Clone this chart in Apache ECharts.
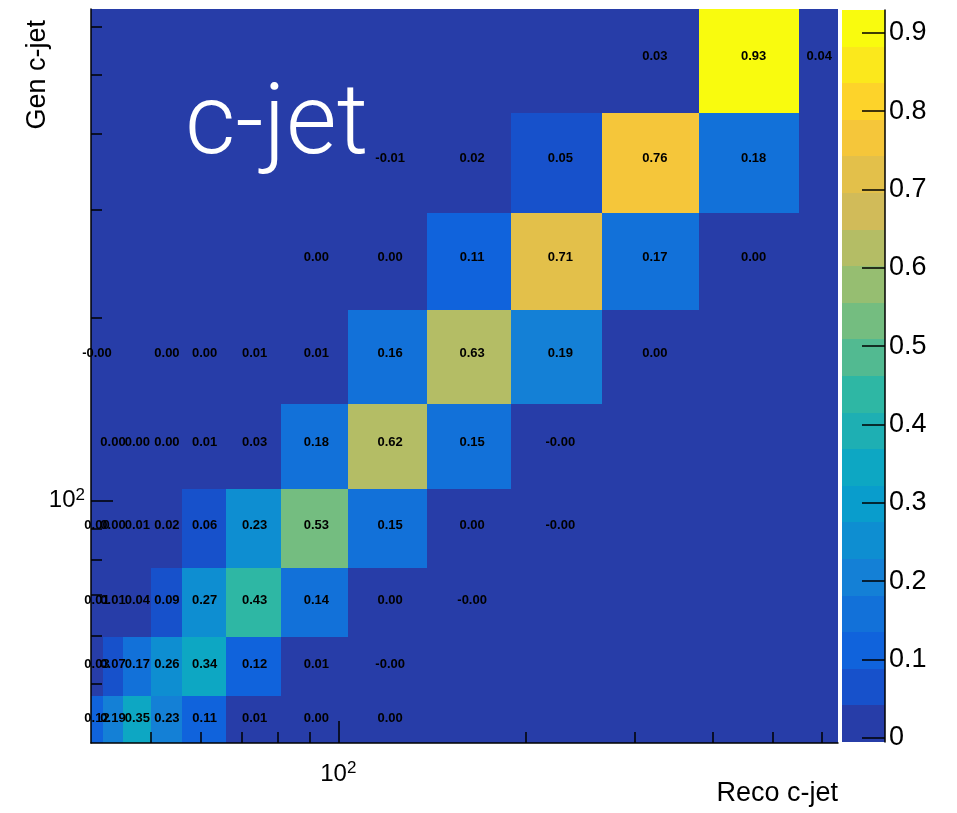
<!DOCTYPE html>
<html><head><meta charset="utf-8">
<script src="https://cdn.jsdelivr.net/npm/echarts@6/dist/echarts.min.js"></script>
<style>html,body{margin:0;padding:0;background:#fff}#c{width:957px;height:813px}</style>
</head><body><div id="c"></div>
<script>
// ---- data ----
const xEdges = [40, 41.8, 45, 50, 56, 65.9, 80.8, 103.6, 138.8, 189.6, 265.7, 380.6, 551.3, 637];
const yEdges = [40, 47.8, 59.7, 77.6, 104.6, 144.4, 205.3, 296.6, 433, 642];
// rows from bottom (Gen bin 1) to top (Gen bin 9); columns = Reco bins 1..13
const row1 = [0.12, 0.19, 0.35, 0.226, 0.11, 0.01, 0.001, 0.001, null, null, null, null, null];
const row2 = [0.03, 0.07, 0.17, 0.26, 0.34, 0.12, 0.01, -0.001, null, null, null, null, null];
const row3 = [0.01, 0.01, 0.04, 0.086, 0.27, 0.43, 0.14, 0.001, -0.001, null, null, null, null];
const row4 = [0.001, 0.001, 0.01, 0.02, 0.06, 0.232, 0.53, 0.15, 0.001, -0.001, null, null, null];
const row5 = [null, 0.001, 0.001, 0.001, 0.01, 0.03, 0.18, 0.62, 0.15, -0.001, null, null, null];
const row6 = [-0.001, null, null, 0.001, 0.001, 0.01, 0.01, 0.16, 0.63, 0.19, 0.001, null, null];
const row7 = [null, null, null, null, null, null, 0.001, 0.001, 0.11, 0.71, 0.17, 0.001, null];
const row8 = [null, null, null, null, null, null, null, -0.0052, 0.02, 0.05, 0.76, 0.18, null];
const row9 = [null, null, null, null, null, null, null, null, null, null, 0.03, 0.929, 0.04];
const rows = [row1, row2, row3, row4, row5, row6, row7, row8, row9];
const xMajorTicks = [100];
const xMinorTicks = [50, 60, 70, 80, 90, 200, 300, 400, 500, 600];
const yMajorTicks = [100];
const yMinorTicks = [50, 60, 70, 80, 90, 200, 300, 400, 500, 600];
const zTicks = [0, 0.1, 0.2, 0.3, 0.4, 0.5, 0.6, 0.7, 0.8, 0.9];
const nContours = 20;
const xTitle = 'Reco c-jet';
const yTitle = 'Gen c-jet';
const plotLabel = 'c-jet';

// ---- palette (ROOT kBird) ----
const pStops = [0, 0.125, 0.25, 0.375, 0.5, 0.625, 0.75, 0.875, 1];
const pRed = [0.2082, 0.0592, 0.0780, 0.0232, 0.1802, 0.5301, 0.8186, 0.9956, 0.9764];
const pGreen = [0.1664, 0.3599, 0.5041, 0.6419, 0.7178, 0.7492, 0.7328, 0.7862, 0.9832];
const pBlue = [0.5293, 0.8684, 0.8385, 0.7914, 0.6425, 0.4662, 0.3499, 0.1968, 0.0539];
function bird(f) {
  f = Math.max(0, Math.min(1, f));
  let k = 1;
  while (k < pStops.length - 1 && f > pStops[k]) k++;
  const t = (f - pStops[k - 1]) / (pStops[k] - pStops[k - 1]);
  const c = a => Math.round(255 * (a[k - 1] + t * (a[k] - a[k - 1])));
  return 'rgb(' + c(pRed) + ',' + c(pGreen) + ',' + c(pBlue) + ')';
}
function bandColor(i) { return bird(Math.floor((i + 0.99) * 255 / nContours) / 254); }

const all = [];
rows.forEach(r => r.forEach(v => { if (v !== null) all.push(v); }));
const zmin = Math.min.apply(null, all);
const zmax = Math.max.apply(null, all);
function bandOf(v) {
  let i = Math.floor((v - zmin) / (zmax - zmin) * nContours);
  return Math.max(0, Math.min(nContours - 1, i));
}

const cellData = [], labelData = [];
rows.forEach((r, ri) => r.forEach((v, ci) => {
  const item = [xEdges[ci], xEdges[ci + 1], yEdges[ri], yEdges[ri + 1], v === null ? 0 : v];
  cellData.push(item);
  if (v !== null) labelData.push(item);
}));
const bandData = [];
for (let i = 0; i < nContours; i++) {
  bandData.push([0, 1, zmin + i * (zmax - zmin) / nContours, zmin + (i + 1) * (zmax - zmin) / nContours, i]);
}

const FF = '"Liberation Sans", Arial, Helvetica, sans-serif';
const black = '#000';
const powRich = {
  b: { fontSize: 24, fontFamily: FF, color: black, lineHeight: 28 },
  s: { fontSize: 17, fontFamily: FF, color: black, verticalAlign: 'top', lineHeight: 18 }
};
const powFmt = v => '{b|10}{s|' + Math.round(Math.log10(v)) + '}';

function logAxis(min, max, pos, major, isMain, margin) {
  return {
    type: 'log', logBase: 10, gridIndex: 0, min: min, max: max, position: pos, offset: 0, z: 10,
    axisLine: { show: isMain, onZero: false, lineStyle: { color: black, width: 1.5 } },
    axisTick: { show: true, inside: true, length: isMain ? 22 : 11, customValues: major,
      lineStyle: { color: black, width: 1.5 } },
    axisLabel: isMain ? { show: true, customValues: major, formatter: powFmt, rich: powRich, margin: margin }
                      : { show: false },
    splitLine: { show: false }, minorTick: { show: false }
  };
}

function rectFrom(api, fill) {
  const p0 = api.coord([api.value(0), api.value(2)]);
  const p1 = api.coord([api.value(1), api.value(3)]);
  const x0 = Math.round(p0[0]), x1 = Math.round(p1[0]);
  const yb = Math.round(p0[1]), yt = Math.round(p1[1]);
  return { type: 'rect',
    shape: { x: x0, y: yt, width: x1 - x0, height: yb - yt },
    style: { fill: fill, stroke: null } };
}

const chart = echarts.init(document.getElementById('c'), null, { renderer: 'canvas' });
chart.setOption({
  animation: false,
  backgroundColor: '#fff',
  grid: [
    { left: 91, top: 9, width: 747, height: 734 },
    { left: 842, top: 10, width: 43, height: 732 }
  ],
  xAxis: [
    logAxis(xEdges[0], xEdges[xEdges.length - 1], 'bottom', xMajorTicks, true, 17),
    logAxis(xEdges[0], xEdges[xEdges.length - 1], 'bottom', xMinorTicks, false, 0),
    { type: 'value', gridIndex: 1, min: 0, max: 1, show: false, axisLine: { onZero: false } }
  ],
  yAxis: [
    logAxis(yEdges[0], yEdges[yEdges.length - 1], 'left', yMajorTicks, true, 6),
    logAxis(yEdges[0], yEdges[yEdges.length - 1], 'left', yMinorTicks, false, 0),
    { type: 'value', gridIndex: 1, min: zmin, max: zmax, position: 'right', z: 10,
      axisLine: { show: true, onZero: false, lineStyle: { color: black, width: 1.5 } },
      axisTick: { show: true, inside: true, length: 23, customValues: zTicks, lineStyle: { color: black, width: 1.5 } },
      axisLabel: { show: true, customValues: zTicks, margin: 4, color: black, fontSize: 27, fontFamily: FF,
        formatter: v => String(Math.round(v * 10) / 10) },
      splitLine: { show: false } }
  ],
  series: [
    {
      type: 'custom', xAxisIndex: 0, yAxisIndex: 0, data: cellData, z: 2,
      encode: { x: [0, 1], y: [2, 3] },
      renderItem: (params, api) => rectFrom(api, bandColor(bandOf(api.value(4))))
    },
    {
      type: 'custom', xAxisIndex: 0, yAxisIndex: 0, data: labelData, z: 3,
      encode: { x: [0, 1], y: [2, 3] },
      renderItem: (params, api) => {
        const p = api.coord([(api.value(0) + api.value(1)) / 2, (api.value(2) + api.value(3)) / 2]);
        return { type: 'text', x: p[0], y: p[1],
          style: { text: api.value(4).toFixed(2), fill: black, font: 'bold 13px ' + FF,
            align: 'center', verticalAlign: 'middle' } };
      }
    },
    {
      type: 'custom', xAxisIndex: 2, yAxisIndex: 2, data: bandData, z: 2,
      encode: { x: [0, 1], y: [2, 3] },
      renderItem: (params, api) => rectFrom(api, bandColor(api.value(4)))
    }
  ],
  graphic: [
    { type: 'text', z: 100, x: 185, y: 128,
      style: { text: plotLabel, fill: '#fff', font: '300 98px Roboto, "Liberation Sans", Arial, sans-serif',
        align: 'left', verticalAlign: 'middle' } },
    { type: 'text', z: 100, x: 38, y: 20, rotation: Math.PI / 2,
      style: { text: yTitle, fill: black, font: '27px ' + FF, align: 'right', verticalAlign: 'middle' } },
    { type: 'text', z: 100, x: 838, y: 794,
      style: { text: xTitle, fill: black, font: '27px ' + FF, align: 'right', verticalAlign: 'middle' } }
  ]
});
</script>
</body></html>
